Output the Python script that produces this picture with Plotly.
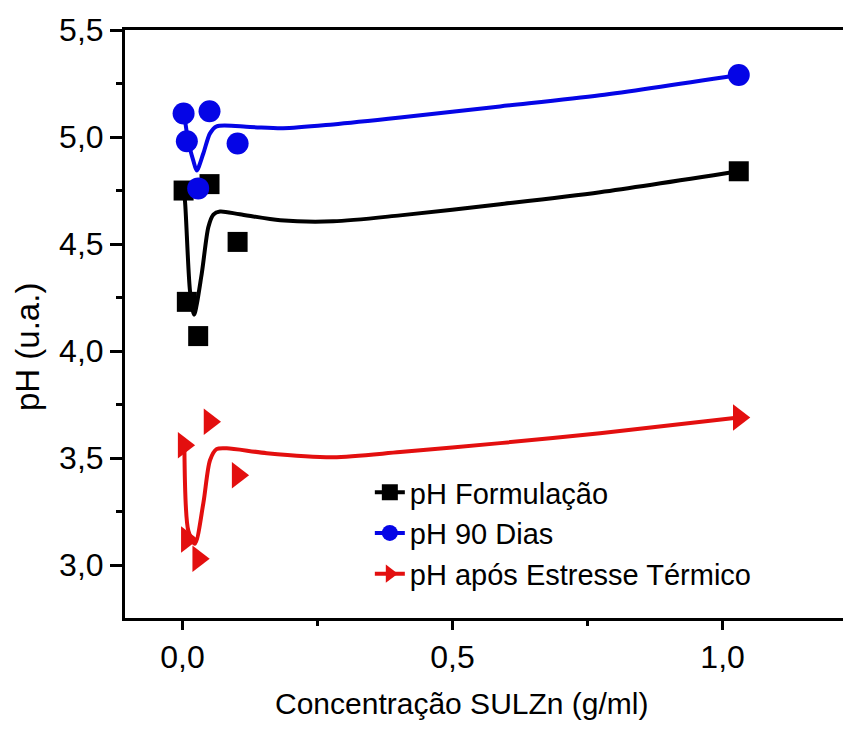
import plotly.graph_objects as go

# ---- data ----
conc = [0.002, 0.008, 0.029, 0.05, 0.102, 1.03]
ph_formulacao = [4.75, 4.23, 4.07, 4.78, 4.51, 4.84]
ph_90dias = [5.11, 4.98, 4.76, 5.12, 4.97, 5.29]
ph_estresse = [3.56, 3.12, 3.03, 3.67, 3.42, 3.69]

# fitted (smoothed) curves
fit_x_form = [0.002, 0.0046, 0.0139, 0.0213, 0.0355, 0.0479, 0.0571, 0.0694, 0.106, 0.181, 0.279, 0.403, 0.588, 0.773, 1.03]
fit_y_form = [4.75, 4.70, 4.28, 4.17, 4.36, 4.58, 4.638, 4.652, 4.639, 4.611, 4.606, 4.634, 4.686, 4.742, 4.84]

fit_x_90 = [0.003, 0.0107, 0.02, 0.0263, 0.0385, 0.0509, 0.0633, 0.125, 0.186, 0.279, 0.403, 0.588, 0.773, 1.03]
fit_y_90 = [5.11, 4.98, 4.89, 4.844, 4.923, 5.017, 5.05, 5.047, 5.041, 5.059, 5.091, 5.143, 5.195, 5.29]

fit_x_est = [0.0035, 0.0108, 0.023, 0.0386, 0.0509, 0.063, 0.082, 0.156, 0.279, 0.403, 0.588, 0.773, 1.03]
fit_y_est = [3.55, 3.16, 3.10, 3.29, 3.49, 3.542, 3.546, 3.523, 3.504, 3.528, 3.57, 3.616, 3.69]

names = ["pH Formulação", "pH 90 Dias", "pH após Estresse Térmico"]
x_tickvals = [0.0, 0.5, 1.0]
y_tickvals = [3.0, 3.5, 4.0, 4.5, 5.0, 5.5]

BLACK = "#000000"
BLUE = "#0505E6"
RED = "#E30F0F"
FONT = "Arial, Liberation Sans, sans-serif"

series = [
    (names[0], ph_formulacao, fit_x_form, fit_y_form, BLACK, "square", 20),
    (names[1], ph_90dias, fit_x_90, fit_y_90, BLUE, "circle", 22),
    (names[2], ph_estresse, fit_x_est, fit_y_est, RED, "triangle-right", 23),
]

fig = go.Figure()
for name, ys, fx, fy, col, sym, sz in series:
    fig.add_trace(go.Scatter(x=fx, y=fy, mode="lines",
                             line=dict(color=col, width=4, shape="spline", smoothing=0.8),
                             showlegend=False, hoverinfo="skip"))
    fig.add_trace(go.Scatter(x=conc, y=ys, mode="markers",
                             marker=dict(color=col, symbol=sym, size=sz, line=dict(width=0)),
                             showlegend=False, name=name))
for name, ys, fx, fy, col, sym, sz in series:
    fig.add_trace(go.Scatter(x=[None], y=[None], mode="lines+markers", name=name,
                             line=dict(color=col, width=4),
                             marker=dict(color=col, symbol=sym, size=16)))

fig.update_layout(
    width=843, height=733,
    margin=dict(l=125, r=0, t=30, b=115),
    paper_bgcolor="white", plot_bgcolor="white",
    separators=",.",
    font=dict(family=FONT, color="black"),
    showlegend=True,
    legend=dict(x=0.341, y=0.257, xanchor="left", yanchor="top",
                bgcolor="rgba(0,0,0,0)", font=dict(size=29, family=FONT),
                traceorder="normal", itemwidth=30),
    xaxis=dict(range=[-0.1065, 1.223], showline=True, linecolor="black", linewidth=3,
               mirror=True, showgrid=False, zeroline=False,
               tickvals=x_tickvals, tickformat=".1f", ticks="outside", ticklen=9,
               tickwidth=3, tickcolor="black", tickfont=dict(size=32, family=FONT),
               minor=dict(dtick=0.25, tick0=0, ticks="outside", ticklen=5, tickwidth=3,
                          tickcolor="black")),
    yaxis=dict(range=[2.753, 5.5], showline=True, linecolor="black", linewidth=3,
               mirror=False, showgrid=False, zeroline=False,
               tickvals=y_tickvals, tickformat=".1f", ticks="outside", ticklen=12,
               tickwidth=3, tickcolor="black", tickfont=dict(size=32, family=FONT),
               minor=dict(dtick=0.25, tick0=0, ticks="outside", ticklen=6, tickwidth=3,
                          tickcolor="black")),
    annotations=[
        dict(text="Concentração SULZn (g/ml)", xref="paper", yref="paper",
             x=0.468, y=-0.146, xanchor="center", yanchor="middle", showarrow=False,
             font=dict(size=30, family=FONT, color="black")),
        dict(text="pH (u.a.)", xref="paper", yref="paper",
             x=-0.135, y=0.461, xanchor="center", yanchor="middle", showarrow=False,
             textangle=-90, font=dict(size=33, family=FONT, color="black")),
    ],
)

fig.write_html("out.html")
